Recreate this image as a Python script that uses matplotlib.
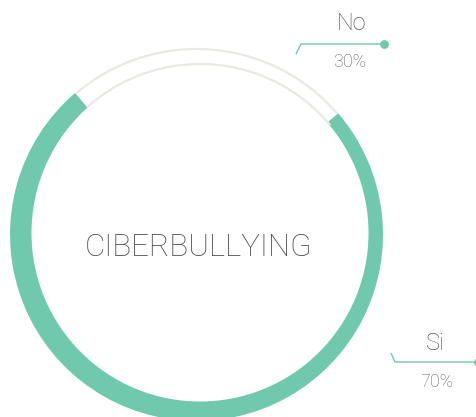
import matplotlib
matplotlib.use("Agg")
import matplotlib.pyplot as plt
from matplotlib.patches import Circle, Arc

# data
categories = ["Si", "No"]
pct_labels = ["70%", "30%"]
arc_share = [75, 25]          # share of the ring as drawn in the picture
title = "CIBERBULLYING"

GREEN = "#70c9ad"
RING_GRAY = "#e9e9e4"
TEXT = "#4a484d"

W, H = 477, 417
fig = plt.figure(figsize=(W / 100, H / 100), dpi=100)
ax = fig.add_axes([0, 0, 1, 1])

# outer disc slices, then white hole slightly off-centre
cx, cy, R = 196.5, H - 234.5, 186.5
hx, hy, r = 200.0, H - 233.0, 168.5
wedges, _ = ax.pie(arc_share, colors=[GREEN, "white"], startangle=130.6,
                   counterclock=True, center=(cx, cy), radius=R,
                   wedgeprops=dict(linewidth=0))
ax.add_patch(Circle((hx, hy), r, facecolor="white", edgecolor="none", zorder=3))

g = wedges[1]
ax.add_patch(Arc((cx, cy), 2 * (R - 1), 2 * (R - 1), theta1=g.theta1, theta2=g.theta2,
                 color=RING_GRAY, lw=1.6, zorder=4))
ax.add_patch(Arc((hx, hy), 2 * (r + 0.5), 2 * (r + 0.5), theta1=g.theta1 - 1, theta2=g.theta2 + 1,
                 color=RING_GRAY, lw=1.6, zorder=4))

ax.text(198.5, H - 247, title, ha="center", va="center", fontsize=22.5,
        family="Roboto", fontweight="light", color=TEXT, zorder=5)

# labels with leader lines
lab_pos = {"No": (352, 23.5, 350, 62), "Si": (435.5, 343.5, 436.5, 382)}
lead = {"No": ([296, 301, 384], [54, 44, 44]), "Si": ([391, 395, 478], [353, 362, 362])}
for cat, pct in zip(categories, pct_labels):
    lx, ly, px, py = lab_pos[cat]
    xs, ys = lead[cat]
    ax.plot(xs, [H - y for y in ys], color=GREEN, lw=1.0, zorder=5, solid_capstyle="butt")
    ax.scatter([xs[-1]], [H - ys[-1]], s=40, color=GREEN, zorder=6, linewidths=0)
    ax.text(lx, H - ly, cat, ha="center", va="center", fontsize=17,
            family="Roboto", fontweight="light", color="#555555", zorder=6)
    ax.text(px, H - py, pct, ha="center", va="center", fontsize=13,
            family="Roboto", fontweight="light", color="#5f5f5f", zorder=6)

ax.set_xlim(0, W)
ax.set_ylim(0, H)
ax.set_aspect("auto")
ax.axis("off")

fig.savefig("out.png", dpi=100, facecolor="white")
